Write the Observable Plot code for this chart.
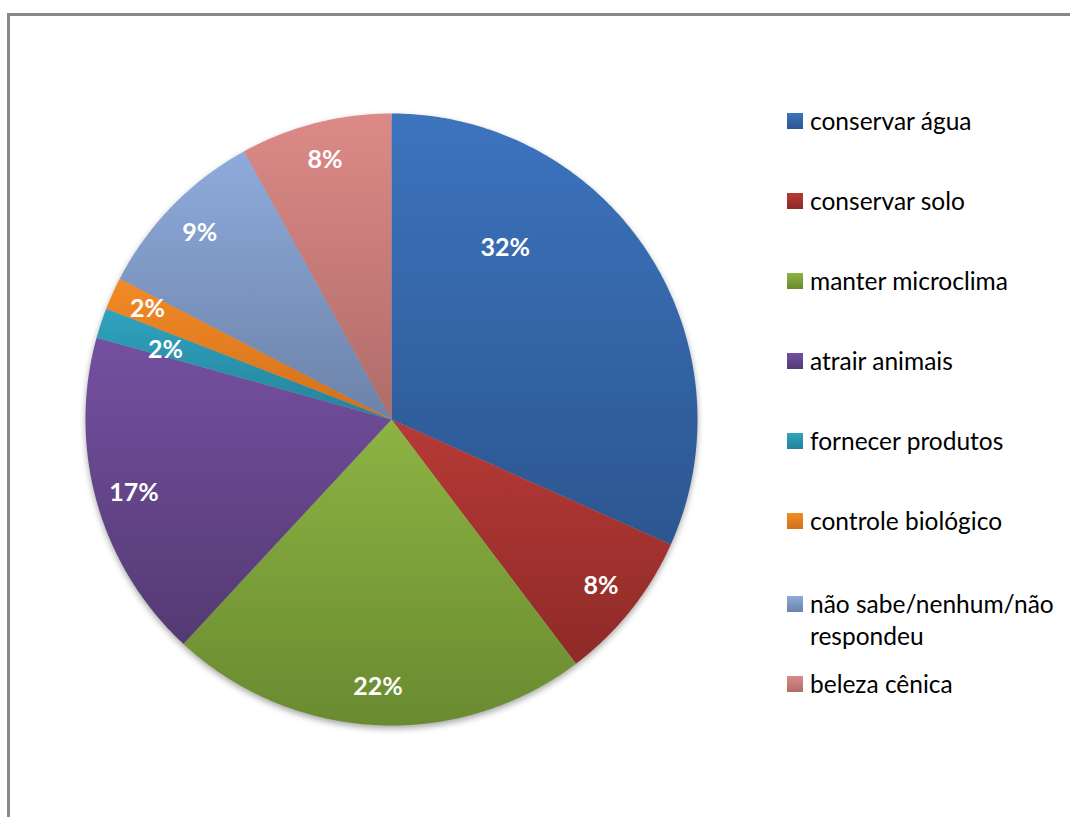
<!DOCTYPE html>
<html>
<head>
<meta charset="utf-8">
<script src="https://cdn.jsdelivr.net/npm/d3@7"></script>
<script src="https://cdn.jsdelivr.net/npm/@observablehq/plot@0.6"></script>
<style>
  html, body { margin: 0; padding: 0; background: #fff; width: 1070px; height: 817px; overflow: hidden; }
  #wrap { position: relative; width: 1070px; height: 817px; }
  #frame { position: absolute; left: 7px; top: 13px; width: 1200px; height: 1000px; border: 3px solid #888; box-sizing: border-box; }
  #chart { position: absolute; left: 0; top: 0; }
  #legend { position: absolute; left: 0; top: 0; width: 1070px; height: 817px; pointer-events: none;
            font-family: Lato, "Open Sans", sans-serif; font-size: 24.5px; color: #000; }
  .item { position: absolute; left: 787px; display: flex; align-items: flex-start; width: 290px; }
  .sw { width: 16px; height: 16px; margin-top: 8px; flex: none; }
  .lb { margin-left: 7px; line-height: 32px; white-space: nowrap; }
</style>
</head>
<body>
<div id="wrap">
  <div id="frame"></div>
  <div id="chart"></div>
  <div id="legend"></div>
</div>
<script>
// ---- data ----
const categories = [
  "conservar água", "conservar solo", "manter microclima", "atrair animais",
  "fornecer produtos", "controle biológico", "não sabe/nenhum/não respondeu", "beleza cênica"
];
const values = [31.7, 8.0, 22.2, 17.4, 1.6, 1.7, 9.4, 8.0];
const labels = ["32%", "8%", "22%", "17%", "2%", "2%", "9%", "8%"];
const legendLabels = ["conservar água", "conservar solo", "manter microclima", "atrair animais",
  "fornecer produtos", "controle biológico", "não sabe/nenhum/não<br>respondeu", "beleza cênica"];

// ---- style ----
const topColors = ["#3C74BE", "#B73A37", "#8CB443", "#7450A0", "#2FA3BF", "#F48A26", "#8EABDC", "#DC8A87"];
const botColors = ["#2C5690", "#8E2A27", "#6A8A30", "#543A73", "#25829A", "#D0701C", "#6C82A8", "#B06C6A"];
const legendCenters = [121, 201, 281, 361, 441, 521, 604, 684];
const labelRadius = 0.875;
const labelShift = { 0: [-111, -26], 4: [28, 15] };

// ---- geometry from data ----
const total = d3.sum(values);
const arcs = [];
const texts = [];
let acc = 0;
categories.forEach((c, i) => {
  const a0 = acc / total * 2 * Math.PI;
  acc += values[i];
  const a1 = acc / total * 2 * Math.PI;
  arcs.push({ cat: c, x: 0, y: 0 });
  const n = Math.max(4, Math.ceil((a1 - a0) / (Math.PI / 360)));
  for (let k = 0; k <= n; k++) {
    const a = a0 + (a1 - a0) * k / n;
    arcs.push({ cat: c, x: Math.sin(a), y: Math.cos(a) });
  }
  const am = (a0 + a1) / 2;
  const sh = labelShift[i] || [0, 0];
  texts.push({ label: labels[i], x: labelRadius * Math.sin(am), y: labelRadius * Math.cos(am), dx: sh[0], dy: sh[1] });
});

const plot = Plot.plot({
  width: 1070,
  height: 817,
  marginLeft: 85,
  marginRight: 373,
  marginTop: 113,
  marginBottom: 92,
  x: { domain: [-1, 1], axis: null },
  y: { domain: [-1, 1], axis: null },
  color: { domain: categories, range: categories.map((d, i) => `url(#sl${i})`) },
  style: { background: "transparent", overflow: "visible" },
  marks: [
    Plot.line(arcs, { x: "x", y: "y", z: "cat", fill: "cat", stroke: "none", curve: "linear" }),
    ...texts.map(t => Plot.text([t], {
      x: "x", y: "y", text: "label", dx: t.dx, dy: t.dy,
      fill: "white", fontSize: 25, fontWeight: "bold", fontFamily: "Lato, 'Open Sans', sans-serif"
    }))
  ]
});

// gradients + shadow
const ns = "http://www.w3.org/2000/svg";
const defs = document.createElementNS(ns, "defs");
categories.forEach((c, i) => {
  const g = document.createElementNS(ns, "linearGradient");
  g.setAttribute("id", `sl${i}`);
  g.setAttribute("x1", "0"); g.setAttribute("y1", "0");
  g.setAttribute("x2", "0"); g.setAttribute("y2", "1");
  [[0, topColors[i]], [1, botColors[i]]].forEach(([o, col]) => {
    const s = document.createElementNS(ns, "stop");
    s.setAttribute("offset", o);
    s.setAttribute("stop-color", col);
    g.appendChild(s);
  });
  defs.appendChild(g);
});
plot.insertBefore(defs, plot.firstChild);
const lineG = plot.querySelector('g[aria-label="line"]');
if (lineG) lineG.style.filter = "drop-shadow(0px 3px 3px rgba(0,0,0,0.35))";
document.getElementById("chart").appendChild(plot);

// legend (colors from the plot's color scale)
const leg = document.getElementById("legend");
categories.forEach((c, i) => {
  const item = document.createElement("div");
  item.className = "item";
  item.style.top = (legendCenters[i] - 16) + "px";
  item.innerHTML = `<div class="sw" style="background: linear-gradient(${topColors[i]}, ${botColors[i]})"></div><div class="lb">${legendLabels[i]}</div>`;
  leg.appendChild(item);
});
</script>
</body>
</html>
